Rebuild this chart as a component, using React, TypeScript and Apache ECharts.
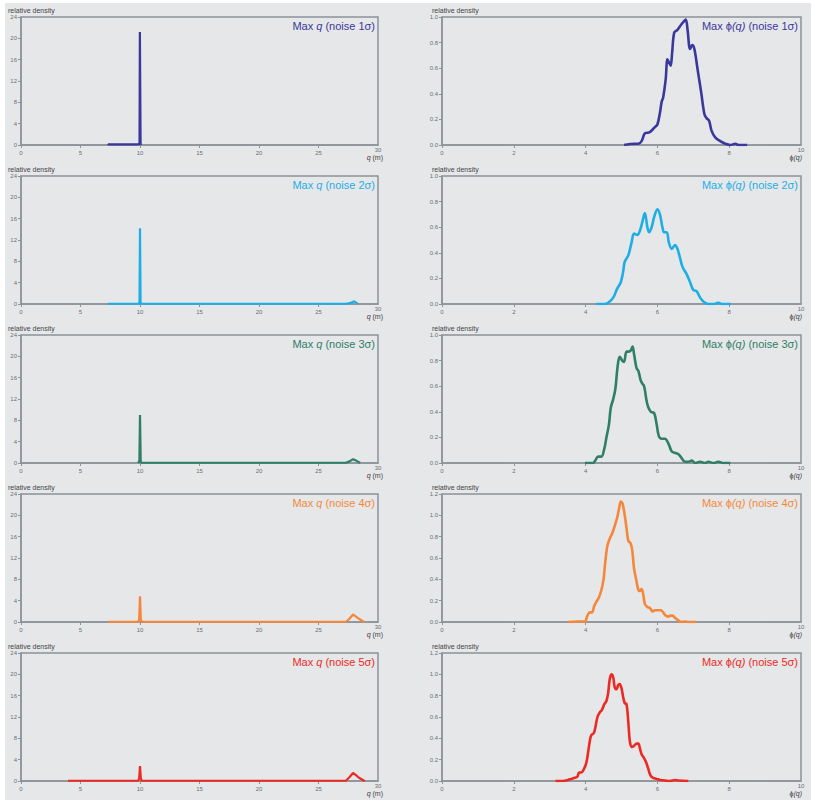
import React, { useEffect, useRef } from 'react';
import * as echarts from 'echarts';

const noiseLevels = ['1σ', '2σ', '3σ', '4σ', '5σ'];
const noiseColors = ['#3a389a', '#1eaee6', '#2f7e66', '#f5873a', '#ec2a23'];

const qTicks = { min: 0, max: 30, interval: 5 };
const qDensityAxis = { min: 0, max: 24, interval: 4 };
const phiTicks = { min: 0, max: 10, interval: 2 };
const phiDensityMax = [1.0, 1.0, 1.0, 1.2, 1.2];

const qNoise1 = [[7.3, 0.25], [7.35, 0.1], [9.9, 0.1], [9.96, 0.4], [9.99, 21.2], [10.02, 21.2], [10.05, 0.3], [10.08, 0]];
const qNoise2 = [[7.3, 0.15], [7.35, 0.05], [9.9, 0.05], [9.96, 0.5], [10.0, 14.2], [10.05, 0.3], [10.1, 0.05], [27.3, 0.05], [27.7, 0.2], [28.0, 0.5], [28.2, 0.2], [28.3, 0]];
const qNoise3 = [[9.85, 0], [9.95, 0.5], [10.0, 9.0], [10.06, 0.3], [10.12, 0.05], [27.3, 0.05], [27.6, 0.3], [27.9, 0.7], [28.2, 0.4], [28.5, 0]];
const qNoise4 = [[7.3, 0.05], [9.85, 0.05], [9.93, 0.5], [10.0, 4.8], [10.07, 0.5], [10.15, 0.05], [27.3, 0.05], [27.6, 0.6], [27.9, 1.4], [28.1, 1.1], [28.4, 0.6], [28.8, 0.05], [28.9, 0]];
const qNoise5 = [[3.95, 0.05], [9.85, 0.05], [9.93, 0.5], [10.0, 2.8], [10.07, 0.5], [10.15, 0.05], [27.3, 0.05], [27.6, 0.7], [27.9, 1.5], [28.1, 1.2], [28.4, 0.6], [28.8, 0.1], [28.9, 0]];

const phiNoise1 = [[5.07, 0], [5.37, 0.01], [5.47, 0.01], [5.56, 0.03], [5.65, 0.09], [5.79, 0.1], [5.93, 0.14], [6.0, 0.16], [6.07, 0.25], [6.12, 0.34], [6.16, 0.37], [6.23, 0.51], [6.28, 0.67], [6.33, 0.64], [6.37, 0.62], [6.41, 0.72], [6.47, 0.88], [6.56, 0.9], [6.66, 0.94], [6.72, 0.96], [6.79, 0.98], [6.84, 0.9], [6.91, 0.75], [6.97, 0.78], [7.03, 0.75], [7.12, 0.59], [7.22, 0.41], [7.31, 0.24], [7.37, 0.21], [7.44, 0.19], [7.51, 0.11], [7.61, 0.06], [7.75, 0.03], [7.89, 0.01], [8.03, 0.0], [8.17, 0.01], [8.26, 0], [8.5, 0]];
const phiNoise2 = [[4.3, 0], [4.53, 0], [4.63, 0.01], [4.77, 0.05], [4.88, 0.12], [4.98, 0.17], [5.05, 0.26], [5.09, 0.33], [5.19, 0.38], [5.28, 0.48], [5.35, 0.55], [5.44, 0.54], [5.51, 0.57], [5.58, 0.64], [5.65, 0.71], [5.72, 0.6], [5.77, 0.56], [5.84, 0.6], [5.91, 0.68], [6.0, 0.74], [6.07, 0.7], [6.14, 0.6], [6.19, 0.56], [6.26, 0.56], [6.32, 0.48], [6.4, 0.43], [6.49, 0.46], [6.56, 0.43], [6.63, 0.36], [6.7, 0.29], [6.82, 0.23], [6.91, 0.17], [7.0, 0.11], [7.09, 0.1], [7.19, 0.05], [7.28, 0.02], [7.42, 0.0], [7.56, 0], [7.7, 0.01], [7.79, 0.0], [8.05, 0]];
const phiNoise3 = [[3.98, 0], [4.21, 0], [4.27, 0.02], [4.35, 0.05], [4.44, 0.05], [4.52, 0.11], [4.58, 0.2], [4.65, 0.3], [4.7, 0.43], [4.77, 0.5], [4.83, 0.58], [4.89, 0.75], [4.95, 0.83], [5.02, 0.8], [5.07, 0.79], [5.14, 0.87], [5.2, 0.87], [5.26, 0.88], [5.31, 0.91], [5.35, 0.85], [5.42, 0.74], [5.47, 0.72], [5.53, 0.65], [5.58, 0.62], [5.63, 0.6], [5.69, 0.5], [5.74, 0.44], [5.82, 0.4], [5.91, 0.39], [5.98, 0.3], [6.04, 0.21], [6.12, 0.19], [6.21, 0.19], [6.31, 0.15], [6.4, 0.09], [6.49, 0.08], [6.58, 0.07], [6.67, 0.04], [6.77, 0.01], [6.86, 0.01], [6.96, 0.02], [7.05, 0.0], [7.19, 0.01], [7.33, 0], [7.42, 0.01], [7.56, 0], [7.7, 0.01], [7.84, 0], [8.03, 0]];
const phiNoise4 = [[3.51, 0], [3.79, 0.005], [3.93, 0.005], [3.98, 0.0], [4.05, 0.06], [4.12, 0.09], [4.18, 0.09], [4.24, 0.15], [4.3, 0.19], [4.37, 0.23], [4.44, 0.3], [4.5, 0.4], [4.53, 0.5], [4.57, 0.63], [4.61, 0.72], [4.67, 0.78], [4.74, 0.83], [4.81, 0.9], [4.88, 0.98], [4.93, 1.06], [4.98, 1.13], [5.03, 1.11], [5.09, 1.0], [5.14, 0.88], [5.19, 0.76], [5.25, 0.74], [5.3, 0.67], [5.35, 0.5], [5.42, 0.38], [5.47, 0.3], [5.51, 0.29], [5.56, 0.31], [5.61, 0.25], [5.65, 0.17], [5.72, 0.14], [5.79, 0.13], [5.87, 0.1], [5.93, 0.11], [6.0, 0.11], [6.1, 0.11], [6.16, 0.09], [6.23, 0.06], [6.3, 0.05], [6.37, 0.06], [6.42, 0.06], [6.49, 0.04], [6.56, 0.02], [6.66, 0.0], [6.77, 0.005], [6.86, 0], [7.09, 0]];
const phiNoise5 = [[3.16, 0], [3.37, 0.0], [3.51, 0.01], [3.6, 0.02], [3.7, 0.03], [3.77, 0.04], [3.82, 0.08], [3.88, 0.08], [3.95, 0.11], [4.02, 0.17], [4.07, 0.27], [4.12, 0.38], [4.16, 0.43], [4.23, 0.45], [4.27, 0.5], [4.33, 0.6], [4.39, 0.64], [4.46, 0.67], [4.52, 0.72], [4.58, 0.75], [4.63, 0.83], [4.67, 0.95], [4.72, 1.0], [4.77, 0.97], [4.81, 0.88], [4.86, 0.86], [4.91, 0.9], [4.95, 0.91], [5.0, 0.87], [5.05, 0.78], [5.09, 0.73], [5.14, 0.72], [5.19, 0.55], [5.23, 0.38], [5.28, 0.32], [5.35, 0.33], [5.42, 0.35], [5.47, 0.35], [5.51, 0.31], [5.56, 0.25], [5.62, 0.22], [5.68, 0.18], [5.74, 0.12], [5.81, 0.05], [5.88, 0.03], [5.98, 0.02], [6.07, 0.01], [6.21, 0.005], [6.35, 0.0], [6.49, 0.01], [6.58, 0.005], [6.86, 0]];

const qSeries = [qNoise1, qNoise2, qNoise3, qNoise4, qNoise5];
const phiSeries = [phiNoise1, phiNoise2, phiNoise3, phiNoise4, phiNoise5];

const FONT = '"Liberation Sans", Arial, Helvetica, sans-serif';
const AXIS_GREY = '#8c9399';
const LABEL_GREY = '#6d6f72';
const BG = '#e6e7e9';

const ROW_TOPS = [17, 176, 335, 494, 653];
const ROW_H = 128;
const LEFT_X = 21, LEFT_W = 357;
const RIGHT_X = 442, RIGHT_W = 359;

export default function App() {
  const ref = useRef<HTMLDivElement>(null);
  useEffect(() => {
    const chart = echarts.init(ref.current!, null, { renderer: 'svg', width: 814, height: 802 });
    const grid: any[] = [];
    const xAxis: any[] = [];
    const yAxis: any[] = [];
    const series: any[] = [];
    const graphic: any[] = [
      { type: 'rect', z: -10, silent: true, shape: { x: 5, y: 3, width: 806, height: 797 }, style: { fill: BG } },
    ];
    const axisCommon = {
      type: 'value',
      axisLine: { show: true, lineStyle: { color: AXIS_GREY, width: 1.5 } },
      axisTick: { show: true, length: 3, lineStyle: { color: AXIS_GREY, width: 1 } },
      splitLine: { show: false },
      axisLabel: { fontSize: 6, color: LABEL_GREY, fontFamily: FONT, margin: 4 },
    };
    const labelStyle = (text: string) => ({ text, fill: LABEL_GREY, fontSize: 6, fontFamily: FONT, align: 'center', verticalAlign: 'middle' });
    ROW_TOPS.forEach((top, i) => {
      const color = noiseColors[i];
      // left: Max q
      grid.push({ left: LEFT_X, top, width: LEFT_W, height: ROW_H, show: true, borderColor: AXIS_GREY, borderWidth: 1.5, backgroundColor: 'transparent' });
      const gl = grid.length - 1;
      xAxis.push({ ...axisCommon, gridIndex: gl, min: qTicks.min, max: qTicks.max, interval: qTicks.interval, axisLabel: { ...axisCommon.axisLabel, margin: 5, showMaxLabel: false } });
      yAxis.push({ ...axisCommon, gridIndex: gl, min: qDensityAxis.min, max: qDensityAxis.max, interval: qDensityAxis.interval });
      series.push({ type: 'line', xAxisIndex: gl, yAxisIndex: gl, data: qSeries[i], showSymbol: false, lineStyle: { color, width: 2.2 }, itemStyle: { color }, z: 3 });
      // right: Max phi(q)
      grid.push({ left: RIGHT_X, top, width: RIGHT_W, height: ROW_H, show: true, borderColor: AXIS_GREY, borderWidth: 1.5, backgroundColor: 'transparent' });
      const gr = grid.length - 1;
      xAxis.push({ ...axisCommon, gridIndex: gr, min: phiTicks.min, max: phiTicks.max, interval: phiTicks.interval, axisLabel: { ...axisCommon.axisLabel, margin: 5, showMaxLabel: false } });
      yAxis.push({ ...axisCommon, gridIndex: gr, min: 0, max: phiDensityMax[i], interval: 0.2, axisLabel: { ...axisCommon.axisLabel, formatter: (v: number) => v.toFixed(1) } });
      series.push({ type: 'line', xAxisIndex: gr, yAxisIndex: gr, data: phiSeries[i], showSymbol: false, smooth: 0.35, lineStyle: { color, width: 2.6 }, itemStyle: { color }, z: 3 });

      // raised max tick labels
      graphic.push({ type: 'text', x: LEFT_X + LEFT_W, y: top + ROW_H + 5, style: labelStyle(String(qTicks.max)) });
      graphic.push({ type: 'text', x: RIGHT_X + RIGHT_W, y: top + ROW_H + 5, style: labelStyle(String(phiTicks.max)) });

      // "relative density" labels
      [LEFT_X - 13, RIGHT_X - 10].forEach((x) => {
        graphic.push({ type: 'text', x, y: top - 7, style: { text: 'relative density', fill: '#444', fontSize: 7, fontFamily: FONT, verticalAlign: 'middle', align: 'left' } });
      });
      // titles
      const titleRich = (c: string) => ({
        n: { fill: c, fontSize: 11, fontFamily: FONT },
        i: { fill: c, fontSize: 11, fontFamily: FONT, fontStyle: 'italic' },
      });
      graphic.push({ type: 'text', x: LEFT_X + LEFT_W - 3, y: top + 9, style: { text: `{n|Max }{i|q}{n| (noise ${noiseLevels[i]})}`, rich: titleRich(color), fill: color, fontSize: 11, fontFamily: FONT, align: 'right', verticalAlign: 'middle' } });
      graphic.push({ type: 'text', x: RIGHT_X + RIGHT_W - 3, y: top + 9, style: { text: `{n|Max ϕ}{i|(q)}{n| (noise ${noiseLevels[i]})}`, rich: titleRich(color), fill: color, fontSize: 11, fontFamily: FONT, align: 'right', verticalAlign: 'middle' } });
      // x-axis names
      const nameRich = {
        n: { fill: '#444', fontSize: 7, fontFamily: FONT },
        i: { fill: '#444', fontSize: 7, fontFamily: FONT, fontStyle: 'italic' },
      };
      graphic.push({ type: 'text', x: LEFT_X + LEFT_W + 5, y: top + ROW_H + 12.5, style: { text: '{i|q}{n| (m)}', rich: nameRich, fill: '#444', fontSize: 7, align: 'right', verticalAlign: 'middle' } });
      graphic.push({ type: 'text', x: RIGHT_X + RIGHT_W + 1, y: top + ROW_H + 12.5, style: { text: '{n|ϕ}{i|(q)}', rich: nameRich, fill: '#444', fontSize: 7, align: 'right', verticalAlign: 'middle' } });
    });

    chart.setOption({
      animation: false,
      backgroundColor: '#ffffff',
      textStyle: { fontFamily: FONT },
      grid,
      xAxis,
      yAxis,
      series,
      graphic,
    });
    return () => chart.dispose();
  }, []);
  return <div ref={ref} style={{ position: 'absolute', left: 0, top: 0, width: 814, height: 802 }} />;
}
